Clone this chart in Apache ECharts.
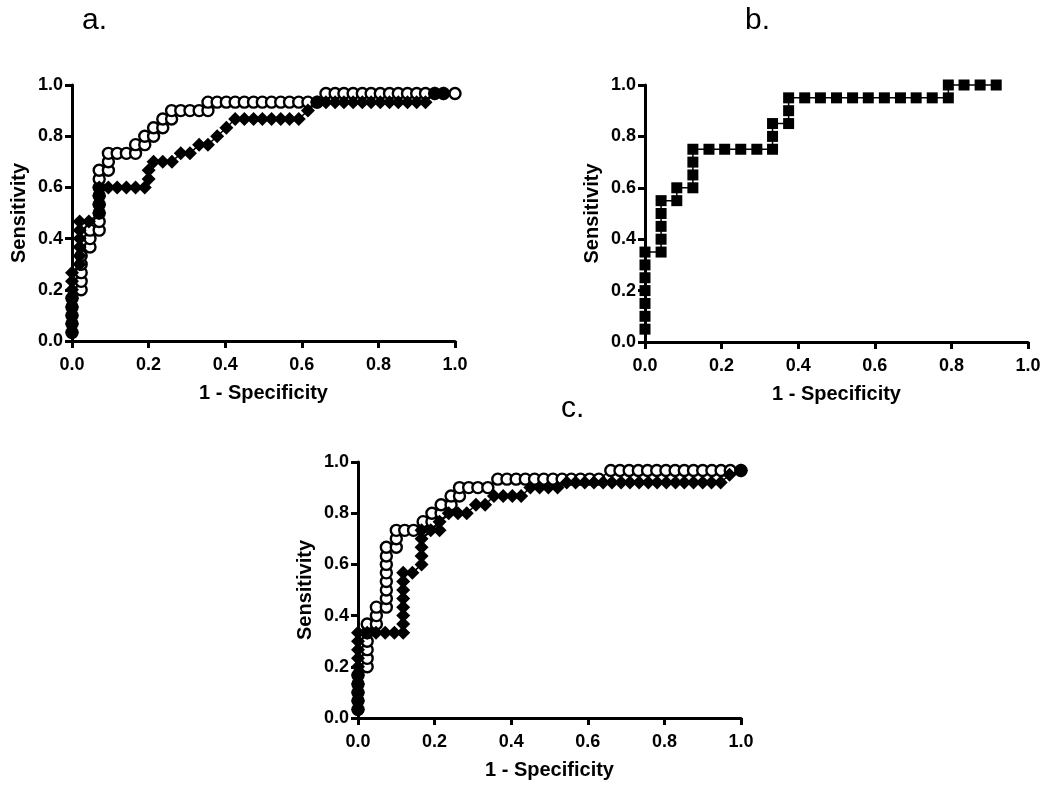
<!DOCTYPE html>
<html>
<head>
<meta charset="utf-8">
<script src="https://cdn.jsdelivr.net/npm/echarts@6/dist/echarts.min.js"></script>
<style>
html,body{margin:0;padding:0;background:#fff;}
#chart{width:1050px;height:786px;}
</style>
</head>
<body>
<div id="chart"></div>
<script>
// ---------- data ----------
const tickLabels = ['0.0','0.2','0.4','0.6','0.8','1.0'];
const panelLabels = ['a.','b.','c.'];
const xTitle = '1 - Specificity';
const yTitle = 'Sensitivity';

// Panel a, open circles
const aOpenX = [0,0,0,0,0, 0.024,0.024,0.024,0.024,0.024, 0.047,0.047,0.047,
  0.071,0.071,0.071,0.071,0.071,0.071,0.071,0.071, 0.095,0.095,0.095,
  0.118,0.142,0.166,0.166,0.19,0.19,0.213,0.213,0.237,0.237,0.26,0.26,0.284,0.308,0.332,0.355,
  0.355,0.379,0.403,0.426,0.45,0.474,0.497,0.521,0.545,0.568,0.592,0.616,0.64,
  0.663,0.687,0.71,0.734,0.758,0.781,0.805,0.829,0.852,0.876,0.9,0.923,0.947,0.97,1.0];
const aOpenY = [0.033,0.067,0.1,0.133,0.167, 0.2,0.233,0.267,0.3,0.333, 0.367,0.4,0.433,
  0.433,0.467,0.5,0.533,0.567,0.6,0.633,0.667, 0.667,0.7,0.733,
  0.733,0.733,0.733,0.767,0.767,0.8,0.8,0.833,0.833,0.867,0.867,0.9,0.9,0.9,0.9,0.9,
  0.933,0.933,0.933,0.933,0.933,0.933,0.933,0.933,0.933,0.933,0.933,0.933,0.933,
  0.967,0.967,0.967,0.967,0.967,0.967,0.967,0.967,0.967,0.967,0.967,0.967,0.967,0.967,0.967];

// Panel a, filled diamonds
const aFillX = [0,0,0,0,0,0,0,0, 0.02,0.02,0.02,0.02,0.02,0.02, 0.044,
  0.071,0.071,0.071,0.071, 0.095,0.118,0.142,0.166,0.19, 0.2,0.2,
  0.213,0.237,0.261, 0.284,0.308, 0.332,0.355, 0.379, 0.403, 0.426,
  0.45,0.474,0.497,0.521,0.545,0.568,0.592, 0.616, 0.64,
  0.663,0.687,0.71,0.734,0.758,0.781,0.805,0.829,0.852,0.876,0.9,0.923, 0.947,0.97];
const aFillY = [0.033,0.067,0.1,0.133,0.167,0.2,0.233,0.267, 0.3,0.333,0.367,0.4,0.433,0.467, 0.467,
  0.5,0.533,0.567,0.6, 0.6,0.6,0.6,0.6,0.6, 0.633,0.667,
  0.7,0.7,0.7, 0.733,0.733, 0.767,0.767, 0.8, 0.833, 0.867,
  0.867,0.867,0.867,0.867,0.867,0.867,0.867, 0.9, 0.933,
  0.933,0.933,0.933,0.933,0.933,0.933,0.933,0.933,0.933,0.933,0.933,0.933, 0.967,0.967];

// Panel b, filled squares
const bX = [0,0,0,0,0,0,0, 0.042,0.042,0.042,0.042,0.042, 0.083,0.083, 0.125,0.125,0.125,0.125,
  0.167,0.208,0.25,0.292,0.333, 0.333,0.333, 0.375,0.375,0.375,
  0.417,0.458,0.5,0.542,0.583,0.625,0.667,0.708,0.75,0.792, 0.792, 0.833,0.875,0.917];
const bY = [0.05,0.1,0.15,0.2,0.25,0.3,0.35, 0.35,0.4,0.45,0.5,0.55, 0.55,0.6, 0.6,0.65,0.7,0.75,
  0.75,0.75,0.75,0.75,0.75, 0.8,0.85, 0.85,0.9,0.95,
  0.95,0.95,0.95,0.95,0.95,0.95,0.95,0.95,0.95,0.95, 1.0, 1.0,1.0,1.0];

// Panel c, open circles
const cOpenX = [0,0,0,0,0, 0.024,0.024,0.024,0.024,0.024,0.024, 0.048,0.048,0.048,
  0.074,0.074,0.074,0.074,0.074,0.074,0.074,0.074, 0.1,0.1,0.1,
  0.122,0.145,0.17,0.17,0.193,0.193,0.217,0.217,0.243,0.243,0.265,0.265,0.289,0.313,0.339,
  0.365,0.389,0.413,0.437,0.461,0.485,0.509,0.533,0.557,0.581,0.605,0.629,
  0.66,0.684,0.708,0.732,0.756,0.78,0.804,0.828,0.852,0.876,0.9,0.924,0.948,0.972,1.0];
const cOpenY = [0.033,0.067,0.1,0.133,0.167, 0.2,0.233,0.267,0.3,0.333,0.367, 0.367,0.4,0.433,
  0.433,0.467,0.5,0.533,0.567,0.6,0.633,0.667, 0.667,0.7,0.733,
  0.733,0.733,0.733,0.767,0.767,0.8,0.8,0.833,0.833,0.867,0.867,0.9,0.9,0.9,0.9,
  0.933,0.933,0.933,0.933,0.933,0.933,0.933,0.933,0.933,0.933,0.933,0.933,
  0.967,0.967,0.967,0.967,0.967,0.967,0.967,0.967,0.967,0.967,0.967,0.967,0.967,0.967,0.967];

// Panel c, filled diamonds
const cFillX = [0,0,0,0,0,0,0,0,0,0, 0.024,0.047,0.071,0.095,
  0.118,0.118,0.118,0.118,0.118,0.118,0.118,0.118, 0.142,
  0.166,0.166,0.166,0.166,0.166, 0.19, 0.213,0.213, 0.237,0.261,0.284, 0.308,0.332,
  0.355,0.379,0.403,0.426, 0.45,0.474,0.497,0.521, 0.545,
  0.568,0.592,0.616,0.64,0.663,0.687,0.71,0.734,0.758,0.781,0.805,0.829,0.852,0.876,0.9,0.923,0.947,
  0.97, 1.0];
const cFillY = [0.033,0.067,0.1,0.133,0.167,0.2,0.233,0.267,0.3,0.333, 0.333,0.333,0.333,0.333,
  0.333,0.367,0.4,0.433,0.467,0.5,0.533,0.567, 0.567,
  0.6,0.633,0.667,0.7,0.733, 0.733, 0.733,0.767, 0.8,0.8,0.8, 0.833,0.833,
  0.867,0.867,0.867,0.867, 0.9,0.9,0.9,0.9, 0.92,
  0.92,0.92,0.92,0.92,0.92,0.92,0.92,0.92,0.92,0.92,0.92,0.92,0.92,0.92,0.92,0.92,0.92,
  0.95, 0.967];

// ---------- chart ----------
const pairs = (xs, ys) => xs.map((x, i) => [x, ys[i]]);
const FONT = '"Liberation Sans", Arial, sans-serif';

const grids = [
  {left: 72, top: 85, width: 383, height: 256},
  {left: 645, top: 85, width: 383, height: 257},
  {left: 358, top: 462, width: 383, height: 256}
];

function axisCommon(name, isX) {
  return {
    type: 'value', min: 0, max: 1, interval: 0.2,
    name: name, nameLocation: 'middle', nameGap: isX ? 42 : 43,
    nameTextStyle: {fontFamily: FONT, fontWeight: 'bold', fontSize: 20, color: '#000'},
    axisLine: {show: true, onZero: false, lineStyle: {color: '#000', width: 3}},
    axisTick: {show: true, inside: false, length: 7, lineStyle: {color: '#000', width: 3}},
    axisLabel: {
      fontFamily: FONT, fontWeight: 'bold', fontSize: 18, color: '#000',
      margin: isX ? 15 : 9,
      formatter: v => tickLabels[Math.round(v / 0.2)]
    },
    splitLine: {show: false}
  };
}

const xAxes = [0,1,2].map(i => Object.assign(axisCommon(xTitle, true), {gridIndex: i}));
const yAxes = [0,1,2].map(i => Object.assign(axisCommon(yTitle, false), {gridIndex: i}));

function openSeries(data, idx) {
  return {
    type: 'line', xAxisIndex: idx, yAxisIndex: idx, data: data,
    symbol: 'circle', symbolSize: 11, showAllSymbol: true, clip: false,
    lineStyle: {color: '#000', width: 1.5},
    itemStyle: {color: '#fff', borderColor: '#000', borderWidth: 2.4},
    animation: false, z: 2
  };
}
function fillSeries(data, idx, sym, size) {
  return {
    type: 'line', xAxisIndex: idx, yAxisIndex: idx, data: data,
    symbol: sym, symbolSize: size, showAllSymbol: true, clip: false,
    lineStyle: {color: '#000', width: 1.5},
    itemStyle: {color: '#000', borderColor: '#000', borderWidth: 0},
    animation: false, z: 3
  };
}

const chart = echarts.init(document.getElementById('chart'), null, {renderer: 'canvas'});
chart.setOption({
  backgroundColor: '#fff',
  animation: false,
  grid: grids,
  xAxis: xAxes,
  yAxis: yAxes,
  graphic: [
    {type: 'text', left: 82, top: 6, style: {text: panelLabels[0], font: '30px ' + FONT, fill: '#000'}},
    {type: 'text', left: 745, top: 6, style: {text: panelLabels[1], font: '30px ' + FONT, fill: '#000'}},
    {type: 'text', left: 561, top: 394, style: {text: panelLabels[2], font: '30px ' + FONT, fill: '#000'}}
  ],
  series: [
    openSeries(pairs(aOpenX, aOpenY), 0),
    fillSeries(pairs(aFillX, aFillY), 0, 'diamond', 14),
    fillSeries(pairs(bX, bY), 1, 'rect', 11),
    openSeries(pairs(cOpenX, cOpenY), 2),
    fillSeries(pairs(cFillX, cFillY), 2, 'diamond', 14)
  ]
});
</script>
</body>
</html>
